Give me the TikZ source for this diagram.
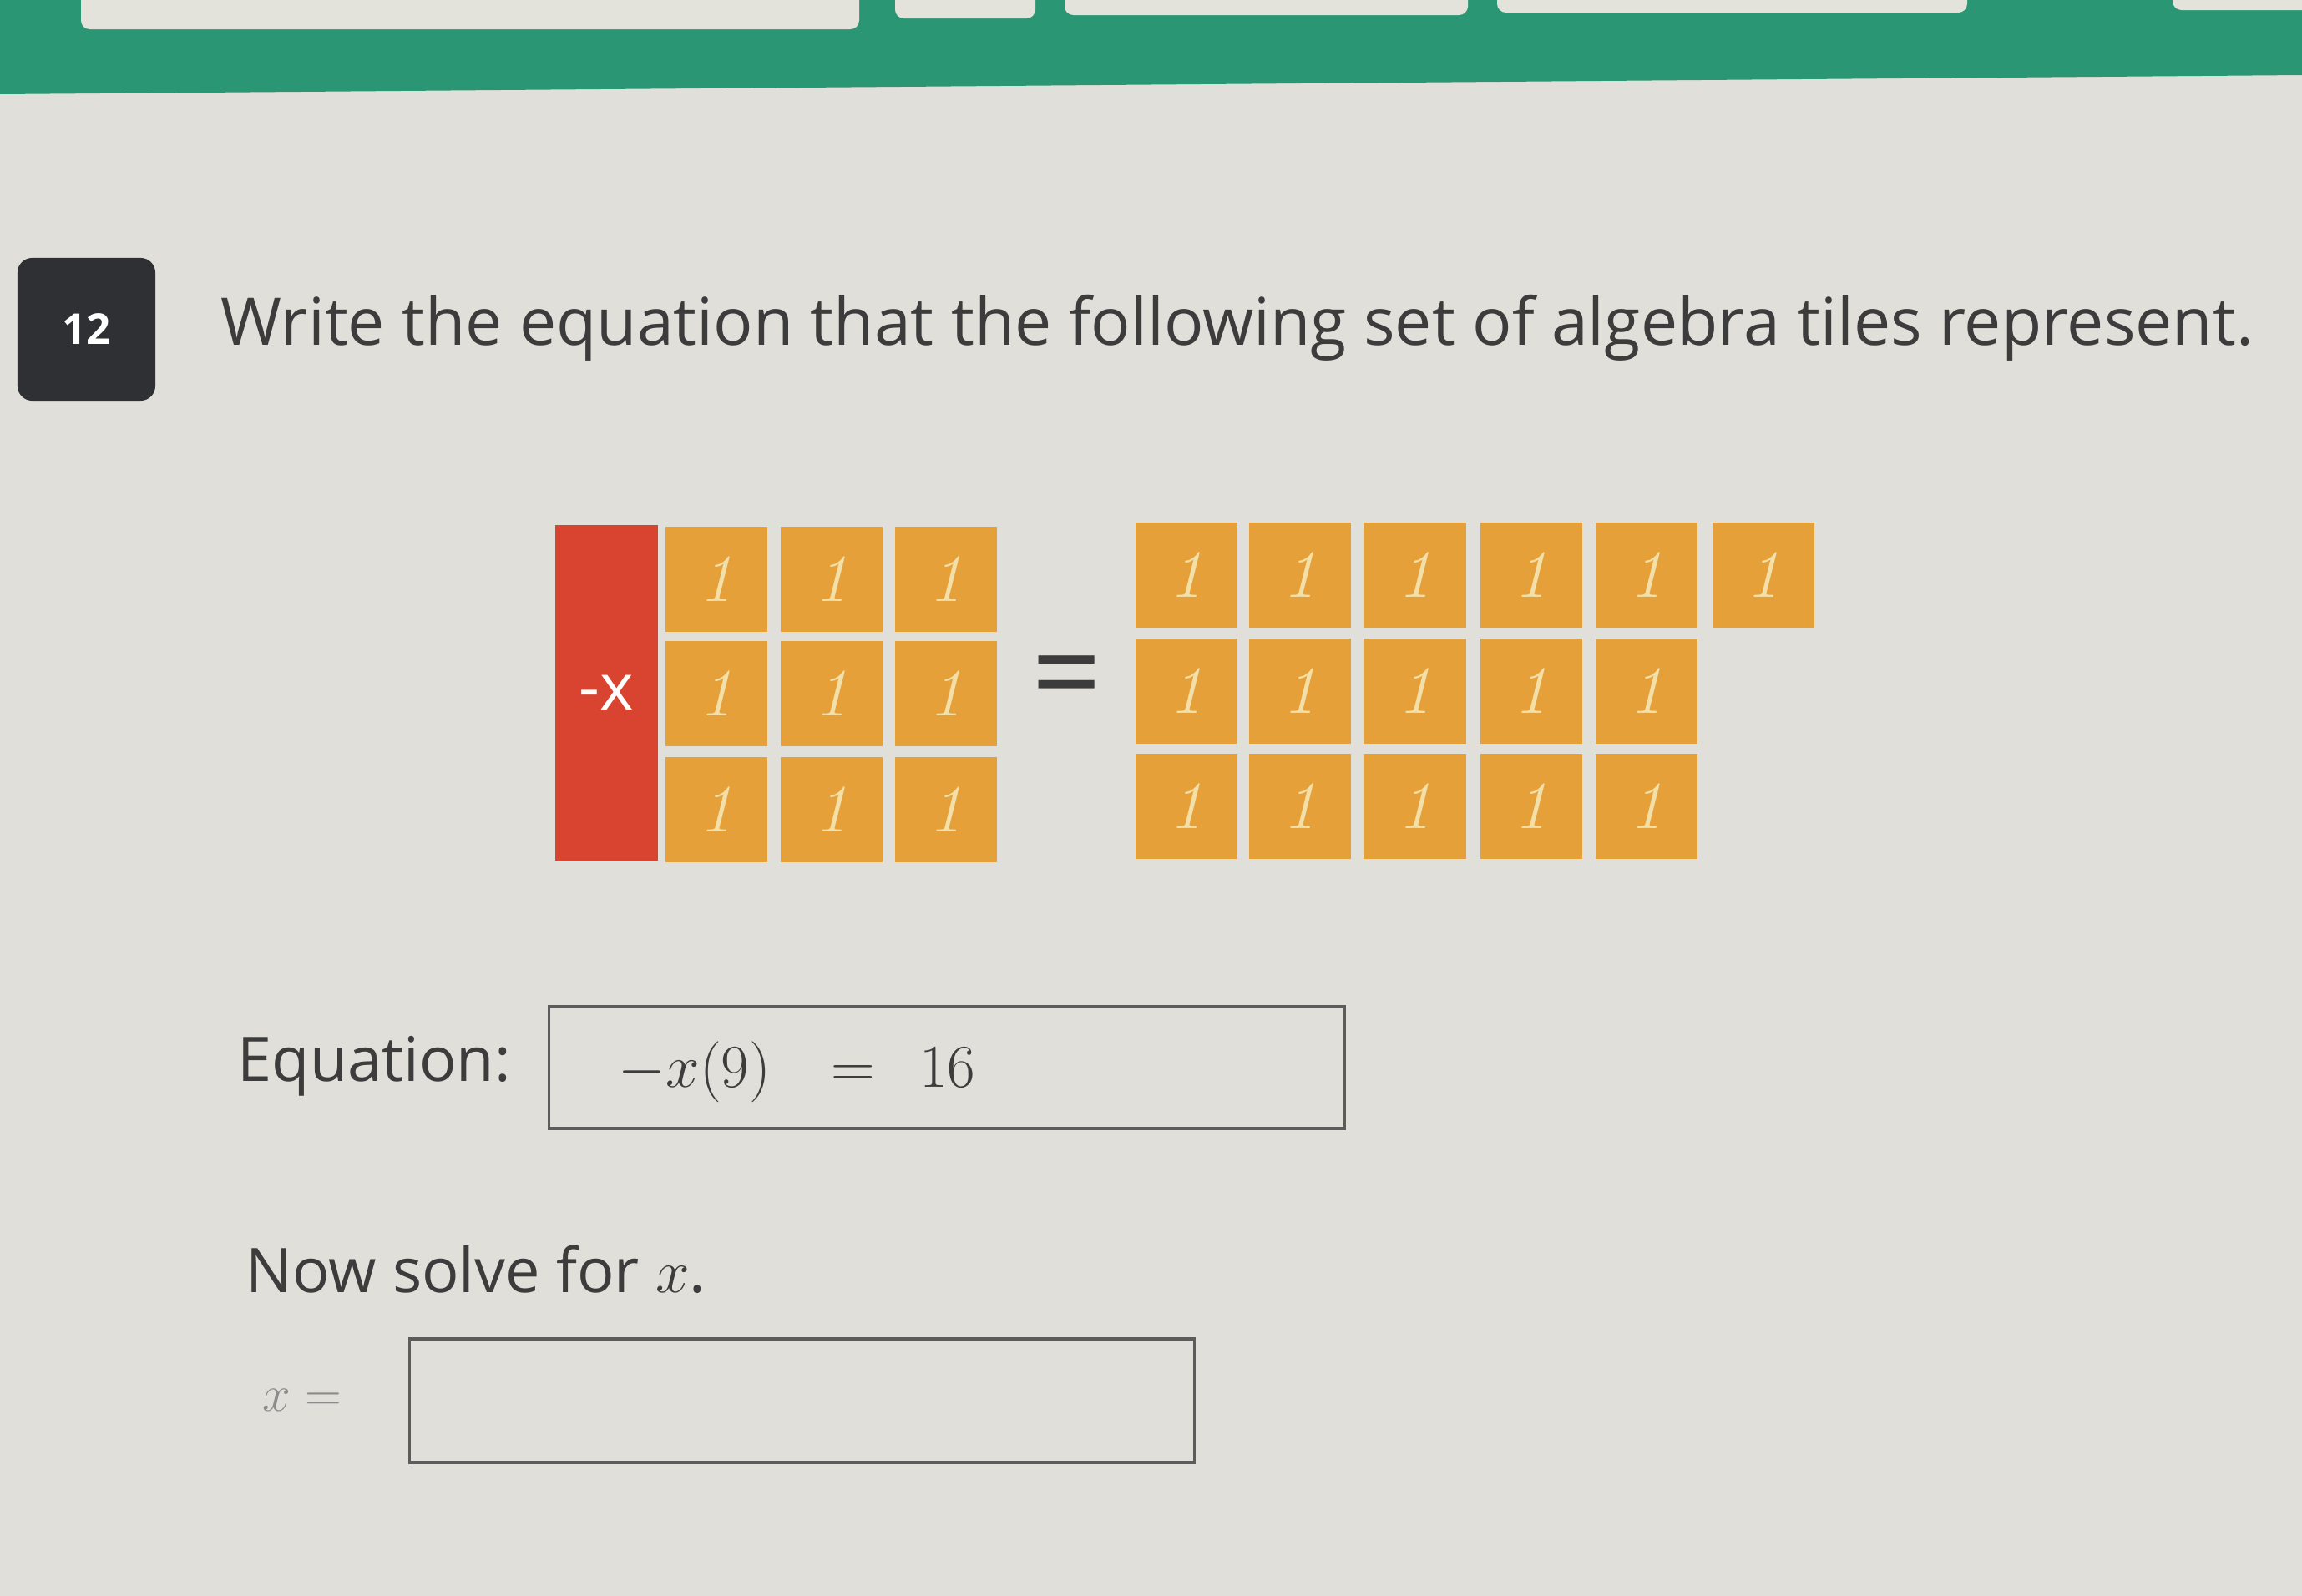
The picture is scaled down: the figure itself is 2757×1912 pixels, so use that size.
\documentclass[tikz,border=0pt]{standalone}
\usepackage[no-math]{fontspec}
\setmainfont{Open Sans}
\newfontfamily\tilefont{Latin Modern Roman}
\definecolor{pagebg}{HTML}{E1DFD9}
\definecolor{bandgreen}{HTML}{2B9673}
\definecolor{tablight}{HTML}{E4E3DB}
\definecolor{tileorange}{HTML}{E6A03A}
\definecolor{tilered}{HTML}{D8442F}
\definecolor{tilecream}{HTML}{F3DFA8}
\definecolor{inkgray}{HTML}{3C3C3C}
\definecolor{boxgray}{HTML}{5C5C5C}
\definecolor{numgray}{HTML}{2E3033}
\begin{document}
\begin{tikzpicture}
[x=0.01cm,y=-0.01cm,
  unitdecorate/.style={fill=tileorange,inner sep=0pt,minimum width=1.21cm,minimum height=1.25cm,
    text=tilecream,font=\tilefont\itshape\fontsize{23}{23}\selectfont},%
  negdecorate/.style={fill=tilered,inner sep=0pt,minimum width=1.23cm,minimum height=4.02cm,
    text=white,font=\fontsize{22}{22}\selectfont},%
  answerdecorate/.style={draw=boxgray,line width=1pt,inner sep=0pt},%
  textdecorate/.style={inner sep=0pt,anchor=base west,text=inkgray,font=\fontsize{21}{21}\selectfont}]
\useasboundingbox (0,0) rectangle (2757,1912);
%% page and top band
\fill[pagebg] (0,0) rectangle (2757,1912);
\fill[bandgreen] (0,0) -- (2757,0) -- (2757,90) -- (0,113) -- cycle;
\foreach \xa/\xb/\yb in {97/1029/35, 1072/1240/22, 1275/1758/18, 1793/2356/15, 2602/2800/12}
{
  \fill[tablight,rounded corners=3pt] (\xa,-20) rectangle (\xb,\yb);
}
%% question number and prompt
\node (qnum) at (103.5,394.5) [fill=numgray,rounded corners=5pt,minimum width=1.65cm,
  minimum height=1.71cm,text=white,font=\bfseries\fontsize{14.5}{14.5}\selectfont] {12};
\node (prompt) at (264,413) [textdecorate,font=\fontsize{22.4}{22.4}\selectfont]
  {Write the equation that the following set of algebra tiles represent.};
%% algebra tiles
\node (negx) at (726.5,830) [negdecorate] {-x};
\foreach \row/\y in {1/694, 2/831, 3/970}
  \foreach \col/\x in {1/858, 2/996, 3/1133}
  {
    \node (left\row\col) at (\x,\y) [unitdecorate] {1};
  }
\node (eqsign) at (1278,822) [inner sep=0pt,text=inkgray,font=\fontsize{42}{42}\selectfont] {=};
\foreach \row/\y in {1/689, 2/828, 3/966}
  \foreach \col/\x in {1/1421, 2/1557, 3/1695, 4/1834, 5/1972}
  {
    \node (right\row\col) at (\x,\y) [unitdecorate] {1};
  }
\node (right16) at (2112,689) [unitdecorate] {1};
%% answer fields
\node (eqlabel) at (284,1295) [textdecorate] {Equation:};
\node (eqbox) at (1134,1279) [answerdecorate,minimum width=9.52cm,minimum height=1.46cm] {};
\node (eqtext) at (740,1302) [textdecorate,font=\fontsize{22}{22}\selectfont] {$-x(9)\;\;\,=\;\,16$};
\node (solvelabel) at (294,1548) [textdecorate] {Now solve for $x$.};
\node (xlabel) at (314,1690) [textdecorate,text=black!45,font=\fontsize{19}{19}\selectfont] {$x =$};
\node (xbox) at (960.5,1678) [answerdecorate,minimum width=9.39cm,minimum height=1.48cm] {};
\end{tikzpicture}
\end{document}
